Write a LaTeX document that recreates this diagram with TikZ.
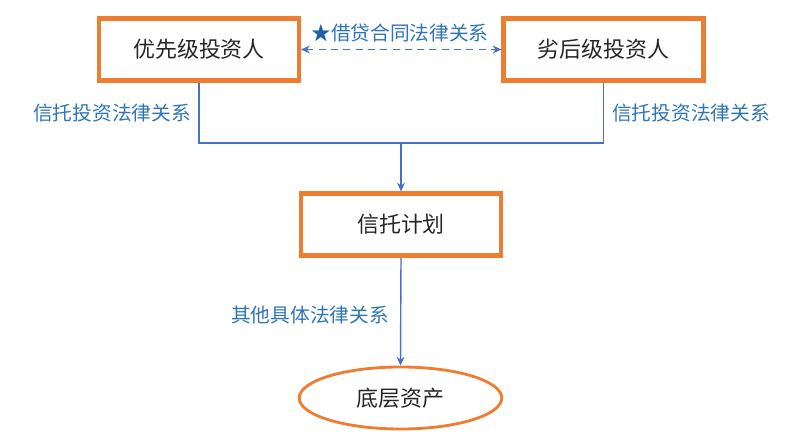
\documentclass[tikz,border=0pt]{standalone}
\usepackage{fontspec}
\setmainfont{Noto Sans CJK SC}
\usetikzlibrary{arrows.meta,shapes.geometric}
\definecolor{boxorange}{HTML}{ED7D31}
\definecolor{linkblue}{HTML}{4472C4}
\definecolor{labelblue}{HTML}{2E75B6}
\definecolor{startext}{HTML}{1F5FA8}
\begin{document}
\begin{tikzpicture}[every node/.style={font=\fontsize{12.5pt}{14pt}\selectfont,text=black!85},
  party/.style={draw=boxorange,line width=2.3pt,minimum width=4.0cm,minimum height=1.24cm,inner sep=0pt},
  rel/.style={font=\fontsize{11.2pt}{13pt}\selectfont,text=labelblue,inner sep=0pt},
  link/.style={draw=linkblue,line width=0.8pt},
  tip/.style={-{Stealth[length=5pt,width=4.5pt]}}]
\useasboundingbox (0,0) rectangle (16,8.96);
\node[party] (senior) at (3.98,7.97) {优先级投资人};
\node[party] (junior) at (12.07,7.97) {劣后级投资人};
\node[party] (plan) at (8.02,4.47) {信托计划};
\node[party,ellipse,line width=1.6pt,minimum width=4.05cm,minimum height=1.24cm] (asset) at (8.01,1.00) {底层资产};
\coordinate (hub) at (8.02,6.10);
\draw[link] (senior.south) |- (hub) -| (junior.south); \draw[link,tip] (hub) -- (plan.north);
\draw[link,line width=1pt,dash pattern=on 4pt off 3pt,{Stealth[length=5pt,width=4.5pt]}-{Stealth[length=5pt,width=4.5pt]}] (senior.east) -- (junior.west);
\draw[link,tip] (plan.south) -- (asset.north);
\node[rel] (loan) at (8.0,8.30) {\textcolor{startext}{★}借贷合同法律关系};
\node[rel] (trustl) at (2.24,6.70) {信托投资法律关系};
\node[rel] (trustr) at (13.82,6.70) {信托投资法律关系};
\node[rel] (other) at (6.20,2.66) {其他具体法律关系};
\end{tikzpicture}
\end{document}
